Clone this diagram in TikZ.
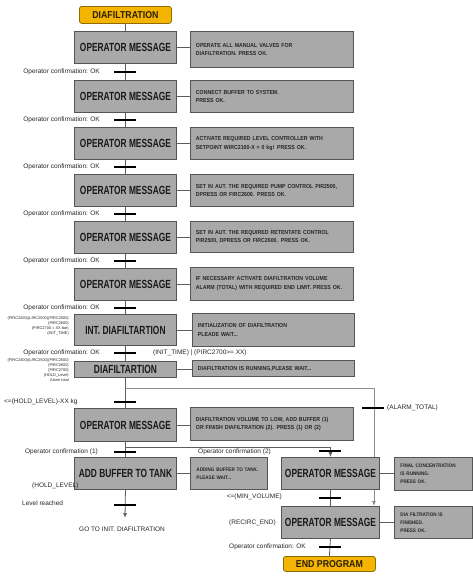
\documentclass[tikz,border=0pt]{standalone}
\usepackage{fontspec}
\usetikzlibrary{arrows.meta,backgrounds,calc}
\newfontfamily\titlefamily{Liberation Sans}[FakeStretch=0.71]
\newfontfamily\yelfamily{Liberation Sans}[FakeStretch=0.88]
\newfontfamily\msgfamily{Liberation Sans}[FakeStretch=0.9]
\newfontfamily\lblfamily{Liberation Sans}
\definecolor{boxgray}{HTML}{A9A9A9}
\definecolor{boxborder}{HTML}{555555}
\definecolor{linegray}{HTML}{5E5E5E}
\definecolor{ybox}{HTML}{F4B400}
\definecolor{ybord}{HTML}{8E6E00}
\definecolor{ytext}{HTML}{2A2000}
\tikzset{
  title/.style={draw=boxborder,fill=boxgray,line width=0.9pt,inner sep=0pt,anchor=north west,
    font=\titlefamily\bfseries\fontsize{11.8}{14}\selectfont,text=black!90},
  msg/.style={draw=boxborder,fill=boxgray,line width=0.9pt,inner xsep=5.5pt,inner ysep=0pt,anchor=north west,
    align=left,font=\msgfamily\bfseries\fontsize{5.8}{8.8}\selectfont,text=black!85},
  smallmsg/.style={msg,inner xsep=6pt,font=\msgfamily\bfseries\fontsize{5.1}{8}\selectfont},
  startbox/.style={draw=ybord,fill=ybox,line width=0.8pt,rounded corners=2.5pt,inner sep=0pt,anchor=north west,
    font=\yelfamily\bfseries\fontsize{10}{12}\selectfont,text=ytext},
  conn/.style={draw=linegray,line width=0.8pt},
  arr/.style={-{Latex[length=5pt,width=4pt]}},
  tickbar/.style={fill=black,inner sep=0pt,minimum width=22pt,minimum height=2.2pt},
  lbl/.style={font=\lblfamily\fontsize{6.5}{7}\selectfont,inner sep=0pt,text=black!85},
  tiny/.style={font=\lblfamily\fontsize{3.9}{5}\selectfont,inner sep=0pt,align=right,anchor=north east,text=black!85},
}
\begin{document}
\begin{tikzpicture}[x=1pt,y=-1pt]
\useasboundingbox (0,0) rectangle (473,579);
% start
\node[startbox,minimum width=92pt,minimum height=17pt] (start) at (79,6) {DIAFILTRATION};
% main column
\node[title,minimum width=102pt,minimum height=32pt] (b1) at (74,31) {OPERATOR MESSAGE};
\node[title,minimum width=102pt,minimum height=32pt] (b2) at (74,80) {OPERATOR MESSAGE};
\node[title,minimum width=102pt,minimum height=32pt] (b3) at (74,127) {OPERATOR MESSAGE};
\node[title,minimum width=102pt,minimum height=32pt] (b4) at (74,174) {OPERATOR MESSAGE};
\node[title,minimum width=102pt,minimum height=32pt] (b5) at (74,221) {OPERATOR MESSAGE};
\node[title,minimum width=102pt,minimum height=32pt] (b6) at (74,268) {OPERATOR MESSAGE};
\node[title,minimum width=102pt,minimum height=31pt] (b7) at (74,314) {INT. DIAFILTARTION};
\node[title,minimum width=102pt,minimum height=16pt] (b8) at (74,361) {DIAFILTARTION};
\node[title,minimum width=102pt,minimum height=33pt] (b9) at (74,408) {OPERATOR MESSAGE};
\node[title,minimum width=102pt,minimum height=32pt] (b10) at (74,457) {ADD BUFFER TO TANK};
% right column
\node[title,minimum width=98pt,minimum height=32pt] (bA) at (281,457) {OPERATOR MESSAGE};
\node[title,minimum width=98pt,minimum height=32pt] (bB) at (281,506) {OPERATOR MESSAGE};
\node[startbox,minimum width=92pt,minimum height=15pt] (endp) at (283,556) {END PROGRAM};
% messages
\node[msg,minimum width=163pt,minimum height=36pt,text width=152pt] (r1) at (190,31) {OPERATE ALL MANUAL VALVES FOR\\DIAFILTRATION. PRESS OK.};
\node[msg,minimum width=163pt,minimum height=32pt,text width=152pt] (r2) at (190,80) {CONNECT BUFFER TO SYSTEM.\\PRESS OK.};
\node[msg,minimum width=163pt,minimum height=32pt,text width=152pt] (r3) at (190,127) {ACTIVATE REQUIRED LEVEL CONTROLLER WITH\\SETPOINT WIRC2100-X = 0 kg! PRESS OK.};
\node[msg,minimum width=163pt,minimum height=32pt,text width=152pt] (r4) at (190,174) {SET IN AUT. THE REQUIRED PUMP CONTROL PIR2500,\\DPRESS OR FIRC2600. PRESS OK.};
\node[msg,minimum width=163pt,minimum height=31pt,text width=152pt] (r5) at (190,221) {SET IN AUT. THE REQUIRED RETENTATE CONTROL\\PIR2500, DPRESS OR FIRC2600. PRESS OK.};
\node[msg,minimum width=163pt,minimum height=33pt,text width=152pt] (r6) at (190,267) {IF NECESSARY ACTIVATE DIAFILTRATION VOLUME\\ALARM (TOTAL) WITH REQUIRED END LIMIT. PRESS OK.};
\node[msg,minimum width=162pt,minimum height=33pt,text width=151pt] (r7) at (192,313) {INITIALIZATION OF DIAFILTRATION\\PLEADE WAIT...};
\node[msg,minimum width=162pt,minimum height=16pt,text width=151pt] (r8) at (192,360) {DIAFILTRATION IS RUNNING,PLEASE WAIT...};
\node[msg,minimum width=163pt,minimum height=33pt,text width=152pt] (r9) at (190,407) {DIAFILTRATION VOLUME TO LOW, ADD BUFFER (1)\\OR FINISH DIAFILTRATION (2). PRESS (1) OR (2)};
\node[smallmsg,minimum width=77pt,minimum height=32pt,text width=65pt] (r10) at (190,457) {ADDING BUFFER TO TANK.\\PLEASE WAIT...};
\node[smallmsg,minimum width=78pt,minimum height=33pt,text width=66pt] (rA) at (394,457) {FINAL CONCENTRATION\\IS RUNNING.\\PRESS OK.};
\node[smallmsg,minimum width=78pt,minimum height=32pt,text width=66pt] (rB) at (394,506) {DIA FILTRATION IS\\FINISHED.\\PRESS OK.};
% junctions
\coordinate (j1) at (125,388);
\coordinate (j2) at (125,447);
\coordinate (bBin) at ([xshift=-6pt]bB.north east);
\coordinate (gotoend) at (125,518);
% connectors
\begin{scope}[on background layer]
\draw[conn] (start.south) -- (b1.north);
\draw[conn] (b1.south) -- (b2.north);
\draw[conn] (b2.south) -- (b3.north);
\draw[conn] (b3.south) -- (b4.north);
\draw[conn] (b4.south) -- (b5.north);
\draw[conn] (b5.south) -- (b6.north);
\draw[conn] (b6.south) -- (b7.north);
\draw[conn] (b7.south) -- (b8.north);
\draw[conn] (b8.south) -- (b9.north);
\draw[conn] (b9.south) -- (b10.north);
\draw[conn,arr] (b10.south) -- (gotoend);
\draw[conn,arr] (j2) -| (bA.north);
\draw[conn,draw=black!45,arr] (j1) -| (bBin);
\draw[conn] (bA.south) -- (bB.north);
\draw[conn] (bB.south) -- (endp.north);
\foreach \i in {1,...,10} {\draw[conn] (b\i.east) -- (b\i.east -| r\i.west);}
\draw[conn] (bA.east) -- (bA.east -| rA.west);
\draw[conn] (bB.east) -- (bB.east -| rB.west);
\end{scope}
% ticks
\node[tickbar] (t1) at (125,72) {};
\node[tickbar] (t2) at (125,120) {};
\node[tickbar] (t3) at (125,167) {};
\node[tickbar] (t4) at (125,214) {};
\node[tickbar] (t5) at (125,261) {};
\node[tickbar] (t6) at (125,308) {};
\node[tickbar] (t7) at (125,353) {};
\node[tickbar] (t8) at (125,402) {};
\node[tickbar] (t9) at (125,452) {};
\node[tickbar] (t10) at (125,505) {};
\node[tickbar] (tA) at (330,451) {};
\node[tickbar] (tB) at (330,498) {};
\node[tickbar] (tC) at (330,547) {};
\node[tickbar] (tal) at (373,408) {};
% labels
\foreach \y in {72,120,167,214,261,308,353} {\node[lbl,anchor=east] at (100,\y) {Operator confirmation: OK};}
\node[lbl,anchor=east] at (98,452) {Operator confirmation (1)};
\node[lbl,anchor=west] at (198,452) {Operator confirmation (2)};
\node[lbl,anchor=west] at (153,353) {(INIT\_TIME) \textbar{} (PIRC2700>= XX)};
\node[lbl,anchor=west] at (4,402) {<=(HOLD\_LEVEL)-XX kg};
\node[lbl,anchor=west] at (32,486) {(HOLD\_LEVEL)};
\node[lbl,anchor=west] at (22,503) {Level reached};
\node[lbl,anchor=north] at (122,527) {GO TO INIT. DIAFILTRATION};
\node[lbl,anchor=west] at (387,408) {(ALARM\_TOTAL)};
\node[lbl,anchor=east] at (282,497) {<=(MIN\_VOLUME)};
\node[lbl,anchor=west] at (229,523) {(RECIRC\_END)};
\node[lbl,anchor=west] at (229,547) {Operator confirmation: OK};
\node[tiny] at (69,316) {(FIRC2400)(LIRC2500)(PIRC2500)\\(PIRC2600)\\(PIRC2700 = XX bar)\\(INIT\_TIME)};
\node[tiny] at (69,358.5) {(FIRC2400)(LIRC2500)(PIRC2500)\\(PIRC2600)\\(PIRC2700)\\(HOLD\_Level)\\Alarm total};
\end{tikzpicture}
\end{document}
